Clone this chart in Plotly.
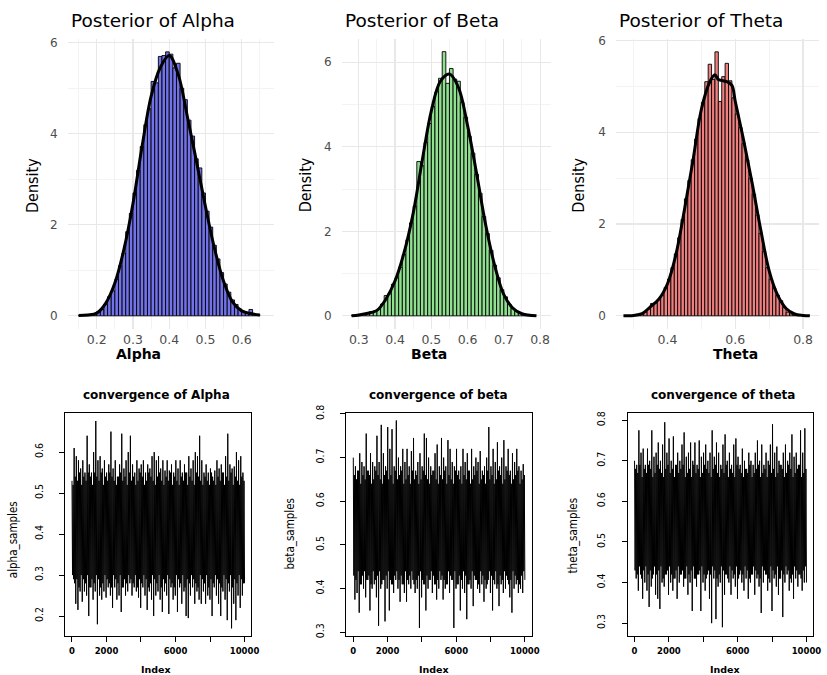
import numpy as np
import plotly.graph_objects as go

W, H = 827, 675

# ---------------- data ----------------
BIN_WIDTH = 0.01

alpha_bin_start = 0.15
alpha_hist = [0.01, 0.01, 0.02, 0.03, 0.05, 0.09, 0.14, 0.25, 0.42, 0.55,
              0.80, 1.10, 1.38, 1.85, 2.25, 2.70, 3.20, 3.72, 4.20, 4.55,
              5.15, 5.12, 5.70, 5.72, 5.80, 5.75, 5.45, 5.55, 5.00, 4.75,
              4.30, 3.95, 3.45, 3.25, 2.70, 2.30, 1.95, 1.55, 1.25, 0.95,
              0.70, 0.52, 0.35, 0.25, 0.15, 0.10, 0.06, 0.14, 0.04, 0.03]
alpha_dens_x = [0.15, 0.175, 0.2, 0.225, 0.25, 0.275, 0.3, 0.325, 0.35, 0.375, 0.4,
                0.425, 0.45, 0.475, 0.5, 0.525, 0.55, 0.575, 0.6, 0.625, 0.65]
alpha_dens_y = [0.01, 0.02, 0.06, 0.28, 0.72, 1.46, 2.47, 3.72, 4.82, 5.45, 5.72,
                5.30, 4.38, 3.40, 2.40, 1.48, 0.76, 0.30, 0.11, 0.05, 0.02]

beta_bin_start = 0.28
beta_hist = [0.01, 0.01, 0.02, 0.03, 0.05, 0.10, 0.12, 0.15, 0.28, 0.48,
             0.52, 0.75, 0.90, 1.15, 1.45, 1.80, 2.20, 2.60, 3.65, 3.55,
             4.10, 4.55, 4.95, 5.30, 5.62, 6.25, 5.50, 5.85, 5.60, 5.55,
             5.05, 4.70, 4.25, 3.85, 3.35, 2.90, 2.35, 1.95, 1.55, 1.20,
             0.90, 0.62, 0.45, 0.28, 0.18, 0.11, 0.06, 0.04, 0.02, 0.01]
beta_dens_x = [0.28, 0.3, 0.325, 0.35, 0.375, 0.4, 0.425, 0.45, 0.475, 0.5, 0.525,
               0.55, 0.575, 0.6, 0.625, 0.65, 0.675, 0.7, 0.725, 0.75, 0.79]
beta_dens_y = [0.0, 0.02, 0.06, 0.13, 0.40, 0.83, 1.50, 2.43, 3.68, 4.85, 5.55,
               5.72, 5.40, 4.50, 3.36, 2.15, 1.18, 0.50, 0.18, 0.05, 0.0]

theta_bin_start = 0.29
theta_hist = [0.01, 0.01, 0.02, 0.04, 0.08, 0.15, 0.27, 0.28, 0.35, 0.45,
              0.62, 0.80, 1.05, 1.35, 1.70, 2.10, 2.55, 2.95, 3.40, 3.85,
              4.30, 4.65, 5.10, 5.48, 5.15, 5.75, 4.67, 5.21, 5.50, 5.12,
              4.75, 4.40, 4.10, 3.75, 3.40, 3.00, 2.65, 2.20, 1.80, 1.40,
              1.05, 0.80, 0.60, 0.45, 0.33, 0.18, 0.08, 0.04, 0.02, 0.01]
theta_dens_x = [0.27, 0.3, 0.325, 0.35, 0.375, 0.4, 0.425, 0.45, 0.475, 0.5, 0.525,
                0.54, 0.55, 0.575, 0.59, 0.6, 0.625, 0.65, 0.675, 0.7, 0.725,
                0.75, 0.775, 0.8, 0.82]
theta_dens_y = [0.0, 0.01, 0.05, 0.20, 0.37, 0.70, 1.34, 2.31, 3.38, 4.50, 5.10,
                5.25, 5.15, 5.10, 5.02, 4.67, 3.81, 2.88, 1.88, 0.98, 0.45,
                0.16, 0.04, 0.01, 0.0]

# trace plots: per stretch of the chain, the outer excursions (highs/lows)
# and the edges of the dense central band (upper/lower)
N_ITER = 10000
alpha_highs = [0.53, 0.61, 0.59, 0.58, 0.56, 0.58, 0.55, 0.64, 0.57, 0.55,
               0.60, 0.676, 0.58, 0.59, 0.56, 0.58, 0.55, 0.57, 0.65, 0.56,
               0.58, 0.54, 0.57, 0.645, 0.56, 0.58, 0.60, 0.64, 0.57, 0.55,
               0.58, 0.56, 0.57, 0.58, 0.55, 0.57, 0.56, 0.59, 0.60, 0.58,
               0.59, 0.56, 0.58, 0.555, 0.58, 0.555, 0.57, 0.55, 0.58, 0.56,
               0.58, 0.55, 0.57, 0.55, 0.59, 0.56, 0.58, 0.60, 0.59, 0.64,
               0.58, 0.55, 0.57, 0.55, 0.56, 0.54, 0.555, 0.58, 0.56, 0.57,
               0.55, 0.59, 0.645, 0.57, 0.56, 0.565, 0.60, 0.58, 0.59, 0.55]
alpha_lows = [0.29, 0.23, 0.215, 0.26, 0.235, 0.26, 0.25, 0.20, 0.27, 0.24,
              0.26, 0.18, 0.25, 0.24, 0.26, 0.245, 0.27, 0.25, 0.22, 0.27,
              0.24, 0.25, 0.21, 0.27, 0.25, 0.26, 0.28, 0.25, 0.27, 0.26,
              0.245, 0.22, 0.27, 0.25, 0.215, 0.26, 0.24, 0.20, 0.25, 0.26,
              0.24, 0.21, 0.26, 0.25, 0.205, 0.27, 0.24, 0.25, 0.21, 0.27,
              0.23, 0.26, 0.20, 0.195, 0.25, 0.27, 0.23, 0.26, 0.24, 0.23,
              0.26, 0.23, 0.25, 0.24, 0.20, 0.27, 0.25, 0.23, 0.20, 0.26,
              0.24, 0.19, 0.26, 0.17, 0.23, 0.19, 0.25, 0.22, 0.25, 0.28]
alpha_upper = [0.52, 0.54, 0.53, 0.55, 0.52, 0.54, 0.53, 0.55, 0.54, 0.52,
               0.55, 0.54, 0.53, 0.55, 0.52, 0.54, 0.53, 0.55, 0.54, 0.53,
               0.52, 0.54, 0.55, 0.53, 0.54, 0.52, 0.55, 0.53, 0.54, 0.52,
               0.53, 0.55, 0.54, 0.52, 0.53, 0.55, 0.54, 0.53, 0.52, 0.54,
               0.55, 0.53, 0.52, 0.54, 0.53, 0.55, 0.52, 0.54, 0.53, 0.52,
               0.54, 0.53, 0.55, 0.52, 0.54, 0.53, 0.52, 0.55, 0.54, 0.53,
               0.52, 0.54, 0.53, 0.52, 0.55, 0.53, 0.52, 0.54, 0.53, 0.55,
               0.52, 0.54, 0.53, 0.55, 0.52, 0.54, 0.53, 0.52, 0.54, 0.53]
alpha_lower = [0.30, 0.28, 0.29, 0.27, 0.30, 0.29, 0.28, 0.30, 0.27, 0.29,
               0.28, 0.30, 0.29, 0.27, 0.28, 0.30, 0.29, 0.28, 0.27, 0.30,
               0.29, 0.28, 0.30, 0.27, 0.29, 0.28, 0.30, 0.29, 0.28, 0.30,
               0.27, 0.29, 0.28, 0.30, 0.29, 0.27, 0.28, 0.30, 0.29, 0.28,
               0.30, 0.27, 0.29, 0.28, 0.30, 0.29, 0.28, 0.27, 0.30, 0.29,
               0.28, 0.30, 0.27, 0.29, 0.28, 0.30, 0.29, 0.28, 0.27, 0.30,
               0.29, 0.28, 0.30, 0.27, 0.29, 0.28, 0.30, 0.29, 0.28, 0.27,
               0.30, 0.29, 0.28, 0.30, 0.27, 0.29, 0.28, 0.30, 0.29, 0.28]

beta_highs = [0.70, 0.68, 0.67, 0.71, 0.69, 0.68, 0.755, 0.67, 0.71, 0.69,
              0.68, 0.75, 0.69, 0.775, 0.71, 0.68, 0.77, 0.72, 0.765, 0.68,
              0.785, 0.70, 0.68, 0.72, 0.69, 0.72, 0.68, 0.715, 0.745, 0.67,
              0.69, 0.71, 0.68, 0.755, 0.745, 0.70, 0.68, 0.67, 0.71, 0.73,
              0.68, 0.745, 0.70, 0.68, 0.74, 0.72, 0.69, 0.68, 0.72, 0.67,
              0.68, 0.72, 0.69, 0.71, 0.67, 0.72, 0.68, 0.70, 0.69, 0.715,
              0.67, 0.68, 0.70, 0.77, 0.68, 0.72, 0.69, 0.735, 0.68, 0.70,
              0.74, 0.68, 0.72, 0.67, 0.71, 0.69, 0.72, 0.68, 0.67, 0.685]
beta_lows = [0.375, 0.39, 0.345, 0.41, 0.40, 0.38, 0.42, 0.35, 0.40, 0.41,
             0.38, 0.315, 0.40, 0.42, 0.325, 0.40, 0.35, 0.41, 0.39, 0.42,
             0.40, 0.37, 0.41, 0.39, 0.37, 0.41, 0.40, 0.42, 0.39, 0.40,
             0.31, 0.38, 0.41, 0.35, 0.40, 0.42, 0.39, 0.41, 0.375, 0.40,
             0.42, 0.375, 0.40, 0.41, 0.39, 0.42, 0.31, 0.40, 0.41, 0.35,
             0.40, 0.39, 0.33, 0.41, 0.40, 0.36, 0.42, 0.40, 0.39, 0.41,
             0.37, 0.40, 0.42, 0.39, 0.35, 0.41, 0.40, 0.36, 0.41, 0.39,
             0.40, 0.42, 0.38, 0.345, 0.40, 0.41, 0.39, 0.40, 0.39, 0.42]
beta_upper = [0.66, 0.65, 0.67, 0.64, 0.66, 0.65, 0.67, 0.66, 0.64, 0.65,
              0.67, 0.66, 0.65, 0.64, 0.66, 0.67, 0.65, 0.66, 0.64, 0.67,
              0.65, 0.66, 0.67, 0.64, 0.65, 0.66, 0.64, 0.67, 0.65, 0.66,
              0.64, 0.65, 0.67, 0.66, 0.65, 0.64, 0.66, 0.67, 0.65, 0.64,
              0.66, 0.65, 0.67, 0.64, 0.66, 0.65, 0.64, 0.67, 0.66, 0.65,
              0.64, 0.66, 0.65, 0.67, 0.64, 0.65, 0.66, 0.67, 0.64, 0.65,
              0.66, 0.64, 0.67, 0.65, 0.66, 0.64, 0.65, 0.67, 0.66, 0.64,
              0.65, 0.67, 0.66, 0.64, 0.65, 0.66, 0.67, 0.64, 0.65, 0.66]
beta_lower = [0.43, 0.42, 0.44, 0.41, 0.43, 0.44, 0.42, 0.43, 0.41, 0.44,
              0.42, 0.43, 0.44, 0.41, 0.42, 0.43, 0.44, 0.42, 0.41, 0.43,
              0.44, 0.42, 0.43, 0.41, 0.44, 0.42, 0.43, 0.44, 0.41, 0.42,
              0.43, 0.44, 0.42, 0.41, 0.43, 0.42, 0.44, 0.43, 0.41, 0.42,
              0.44, 0.43, 0.42, 0.41, 0.44, 0.43, 0.42, 0.44, 0.41, 0.43,
              0.42, 0.44, 0.43, 0.41, 0.42, 0.44, 0.43, 0.42, 0.41, 0.44,
              0.43, 0.42, 0.41, 0.44, 0.43, 0.42, 0.44, 0.41, 0.43, 0.42,
              0.44, 0.43, 0.41, 0.42, 0.44, 0.43, 0.42, 0.41, 0.43, 0.44]

theta_highs = [0.70, 0.69, 0.775, 0.72, 0.73, 0.69, 0.73, 0.70, 0.775, 0.71,
               0.72, 0.745, 0.70, 0.74, 0.795, 0.72, 0.755, 0.70, 0.76, 0.69,
               0.72, 0.70, 0.74, 0.77, 0.71, 0.72, 0.745, 0.70, 0.745, 0.69,
               0.75, 0.71, 0.72, 0.74, 0.70, 0.72, 0.775, 0.71, 0.745, 0.72,
               0.69, 0.74, 0.765, 0.70, 0.72, 0.69, 0.74, 0.755, 0.71, 0.69,
               0.73, 0.70, 0.68, 0.72, 0.70, 0.69, 0.72, 0.75, 0.70, 0.74,
               0.69, 0.72, 0.70, 0.74, 0.79, 0.72, 0.735, 0.70, 0.69, 0.72,
               0.74, 0.70, 0.72, 0.765, 0.71, 0.72, 0.69, 0.775, 0.72, 0.78]
theta_lows = [0.41, 0.38, 0.42, 0.36, 0.40, 0.38, 0.34, 0.39, 0.42, 0.37,
              0.36, 0.335, 0.40, 0.39, 0.42, 0.37, 0.40, 0.38, 0.41, 0.36,
              0.40, 0.42, 0.39, 0.41, 0.37, 0.40, 0.33, 0.41, 0.39, 0.42,
              0.33, 0.40, 0.38, 0.42, 0.36, 0.30, 0.41, 0.31, 0.39, 0.40,
              0.29, 0.37, 0.42, 0.40, 0.37, 0.41, 0.39, 0.36, 0.42, 0.40,
              0.38, 0.41, 0.36, 0.40, 0.42, 0.37, 0.41, 0.39, 0.325, 0.40,
              0.42, 0.38, 0.40, 0.33, 0.41, 0.39, 0.37, 0.41, 0.315, 0.40,
              0.42, 0.38, 0.40, 0.36, 0.41, 0.39, 0.42, 0.38, 0.40, 0.40]
theta_upper = [0.68, 0.67, 0.69, 0.66, 0.68, 0.67, 0.69, 0.68, 0.66, 0.67,
               0.69, 0.68, 0.67, 0.66, 0.68, 0.69, 0.67, 0.68, 0.66, 0.69,
               0.67, 0.68, 0.69, 0.66, 0.67, 0.68, 0.66, 0.69, 0.67, 0.68,
               0.66, 0.67, 0.69, 0.68, 0.67, 0.66, 0.68, 0.69, 0.67, 0.66,
               0.68, 0.67, 0.69, 0.66, 0.68, 0.67, 0.66, 0.69, 0.68, 0.67,
               0.66, 0.68, 0.67, 0.69, 0.66, 0.67, 0.68, 0.69, 0.66, 0.67,
               0.68, 0.66, 0.69, 0.67, 0.68, 0.66, 0.67, 0.69, 0.68, 0.66,
               0.67, 0.69, 0.68, 0.66, 0.67, 0.68, 0.69, 0.66, 0.67, 0.68]
theta_lower = [0.43, 0.42, 0.44, 0.41, 0.43, 0.44, 0.42, 0.43, 0.41, 0.44,
               0.42, 0.43, 0.44, 0.41, 0.42, 0.43, 0.44, 0.42, 0.41, 0.43,
               0.44, 0.42, 0.43, 0.41, 0.44, 0.42, 0.43, 0.44, 0.41, 0.42,
               0.43, 0.44, 0.42, 0.41, 0.43, 0.42, 0.44, 0.43, 0.41, 0.42,
               0.44, 0.43, 0.42, 0.41, 0.44, 0.43, 0.42, 0.44, 0.41, 0.43,
               0.42, 0.44, 0.43, 0.41, 0.42, 0.44, 0.43, 0.42, 0.41, 0.44,
               0.43, 0.42, 0.41, 0.44, 0.43, 0.42, 0.44, 0.41, 0.43, 0.42,
               0.44, 0.43, 0.41, 0.42, 0.44, 0.43, 0.42, 0.41, 0.43, 0.44]

hist_colors = ["#7272ea", "#8fe08f", "#f08080"]
hist_names = ["Alpha", "Beta", "Theta"]
trace_titles = ["convergence of Alpha", "convergence of beta", "convergence of theta"]
trace_ylabels = ["alpha_samples", "beta_samples", "theta_samples"]

# ---------------- helpers ----------------
def fx(p):
    return p / W

def fy(p):
    return 1 - p / H

WIDE = "DejaVu Sans"
NARROW = "Liberation Sans Narrow, DejaVu Sans Condensed, Arial Narrow, sans-serif"

fig = go.Figure()

hists = [(alpha_bin_start, alpha_hist, alpha_dens_x, alpha_dens_y),
         (beta_bin_start, beta_hist, beta_dens_x, beta_dens_y),
         (theta_bin_start, theta_hist, theta_dens_x, theta_dens_y)]

for k, (start, heights, dx, dy) in enumerate(hists):
    ax = "" if k == 0 else str(k + 1)
    centers = start + BIN_WIDTH * (np.arange(len(heights)) + 0.5)
    fig.add_trace(go.Bar(x=centers, y=heights, width=BIN_WIDTH,
                         marker=dict(color=hist_colors[k], line=dict(color="black", width=0.9)),
                         xaxis="x" + ax, yaxis="y" + ax, showlegend=False))
    fig.add_trace(go.Scatter(x=dx, y=dy, mode="lines",
                             line=dict(color="black", width=3, shape="spline"),
                             xaxis="x" + ax, yaxis="y" + ax, showlegend=False))

traces = [(alpha_highs, alpha_lows, alpha_upper, alpha_lower),
          (beta_highs, beta_lows, beta_upper, beta_lower),
          (theta_highs, theta_lows, theta_upper, theta_lower)]
for k, (hi, lo, up, dn) in enumerate(traces):
    ax = str(k + 4)
    vals = []
    for h, d, u, l in zip(hi, dn, up, lo):
        vals.extend([h, d, u, l])
    idx = np.linspace(1, N_ITER, len(vals))
    fig.add_trace(go.Scatter(x=idx, y=vals, mode="lines",
                             line=dict(color="black", width=1, simplify=False),
                             xaxis="x" + ax, yaxis="y" + ax, showlegend=False))

# ---------------- axes ----------------
top_x = [((68.3, 277), (0.1197, 0.69), 0.1, 0.05),
         ((345, 556), (0.2527, 0.829), 0.1, 0.05),
         ((622, 827), (0.248, 0.847), 0.2, 0.1)]
top_y = [(-0.293, 6.093), (-0.315, 6.56), (-0.29, 6.04)]
TOP_Y_PX = (31, 326)

layout = dict(width=W, height=H, margin=dict(l=0, r=0, t=0, b=0),
              paper_bgcolor="white", plot_bgcolor="white", bargap=0,
              showlegend=False)

for k in range(3):
    ax = "" if k == 0 else str(k + 1)
    (l, r), xr, dt, mdt = top_x[k]
    layout["xaxis" + ax] = dict(
        domain=[fx(l), fx(r)], range=list(xr), anchor="y" + ax,
        tick0=0, dtick=dt, showgrid=True, gridcolor="#e8e8e8", gridwidth=1.2,
        minor=dict(tick0=0, dtick=mdt, showgrid=True, gridcolor="#f3f3f3", gridwidth=1),
        zeroline=False, showline=False, ticks="", ticklabelstandoff=1,
        tickfont=dict(family=WIDE, size=12.5, color="#4d4d4d"), tickformat=".1f")
    layout["yaxis" + ax] = dict(
        domain=[fy(TOP_Y_PX[1]), fy(TOP_Y_PX[0])], range=list(top_y[k]), anchor="x" + ax,
        tick0=0, dtick=2, showgrid=True, gridcolor="#e8e8e8", gridwidth=1.2,
        minor=dict(tick0=0, dtick=1, showgrid=True, gridcolor="#f3f3f3", gridwidth=1),
        zeroline=False, showline=False, ticks="", ticklabelstandoff=9,
        tickfont=dict(family=WIDE, size=12, color="#4d4d4d"))

bot_x = [(65.7, 253.9), (349.8, 536.9), (633.8, 821.3)]
bot_y = [((0.1507, 0.6964), [0.2, 0.3, 0.4, 0.5, 0.6]),
         ((0.291, 0.803), [0.3, 0.4, 0.5, 0.6, 0.7, 0.8]),
         ((0.2677, 0.8187), [0.3, 0.4, 0.5, 0.6, 0.7, 0.8])]
BOT_Y_PX = (410.7, 637.7)
x_tickvals = [0, 2000, 4000, 6000, 8000, 10000]
x_ticktext = ["0", "2000", "", "6000", "", "10000"]

for k in range(3):
    ax = str(k + 4)
    l, r = bot_x[k]
    yr, yt = bot_y[k]
    layout["xaxis" + ax] = dict(
        domain=[fx(l), fx(r)], range=[-400, 10400], anchor="y" + ax,
        showgrid=False, zeroline=False, showline=True, mirror=True,
        linecolor="black", linewidth=1, ticks="outside", ticklen=5,
        tickcolor="black", tickwidth=1, tickvals=x_tickvals, ticktext=x_ticktext,
        ticklabelstandoff=2,
        tickfont=dict(family=WIDE, size=8.5, color="black", weight="bold"))
    layout["yaxis" + ax] = dict(
        domain=[fy(BOT_Y_PX[1]), fy(BOT_Y_PX[0])], range=list(yr), anchor="x" + ax,
        showgrid=False, zeroline=False, showline=True, mirror=True,
        linecolor="black", linewidth=1, ticks="outside", ticklen=5,
        tickcolor="black", tickwidth=1, tickvals=yt, tickformat=".1f",
        tickangle=-90, ticklabelstandoff=12,
        tickfont=dict(family=NARROW, size=10.5, color="black"))

# ---------------- text ----------------
ann = []
title_left = [70, 346.7, 623]
dens_x = [33, 308, 584]
xlab_x = [140, 433, 743]
for k in range(3):
    ann.append(dict(text="Posterior of " + hist_names[k], x=fx(title_left[k]), y=fy(13),
                    xref="paper", yref="paper",
                    xanchor="left", yanchor="middle", showarrow=False,
                    font=dict(family=WIDE, size=18.5, color="black")))
    ann.append(dict(text="Density", x=fx(dens_x[k]), y=fy(180), textangle=-90,
                    xref="paper", yref="paper",
                    xanchor="center", yanchor="middle", showarrow=False,
                    font=dict(family=NARROW, size=16, color="black")))
    ann.append(dict(text=hist_names[k], x=fx(xlab_x[k]), y=fy(351),
                    xref="paper", yref="paper",
                    xanchor="center", yanchor="middle", showarrow=False,
                    font=dict(family=WIDE, size=14, color="black", weight="bold")))

ttl_x = [158, 443, 730]
idx_x = [158, 438, 732]
ylab_x = [13.3, 293.3, 579]
ylab_y = [540, 533, 535]
for k in range(3):
    ann.append(dict(text=trace_titles[k], x=fx(ttl_x[k]), y=fy(393),
                    xref="paper", yref="paper",
                    xanchor="center", yanchor="middle", showarrow=False,
                    font=dict(family=WIDE, size=12, color="black", weight="bold")))
    ann.append(dict(text="Index", x=fx(idx_x[k]), y=fy(671),
                    xref="paper", yref="paper",
                    xanchor="center", yanchor="middle", showarrow=False,
                    font=dict(family=WIDE, size=9.5, color="black", weight="bold")))
    ann.append(dict(text=trace_ylabels[k], x=fx(ylab_x[k]), y=fy(ylab_y[k]), textangle=-90,
                    xref="paper", yref="paper",
                    xanchor="center", yanchor="middle", showarrow=False,
                    font=dict(family=NARROW, size=11.5, color="black")))

layout["annotations"] = ann
fig.update_layout(**layout)
fig.write_html("out.html",
               config={"displayModeBar": False, "staticPlot": True},
               post_script="document.body.style.margin='0';"
                           "document.body.style.overflow='hidden';")
